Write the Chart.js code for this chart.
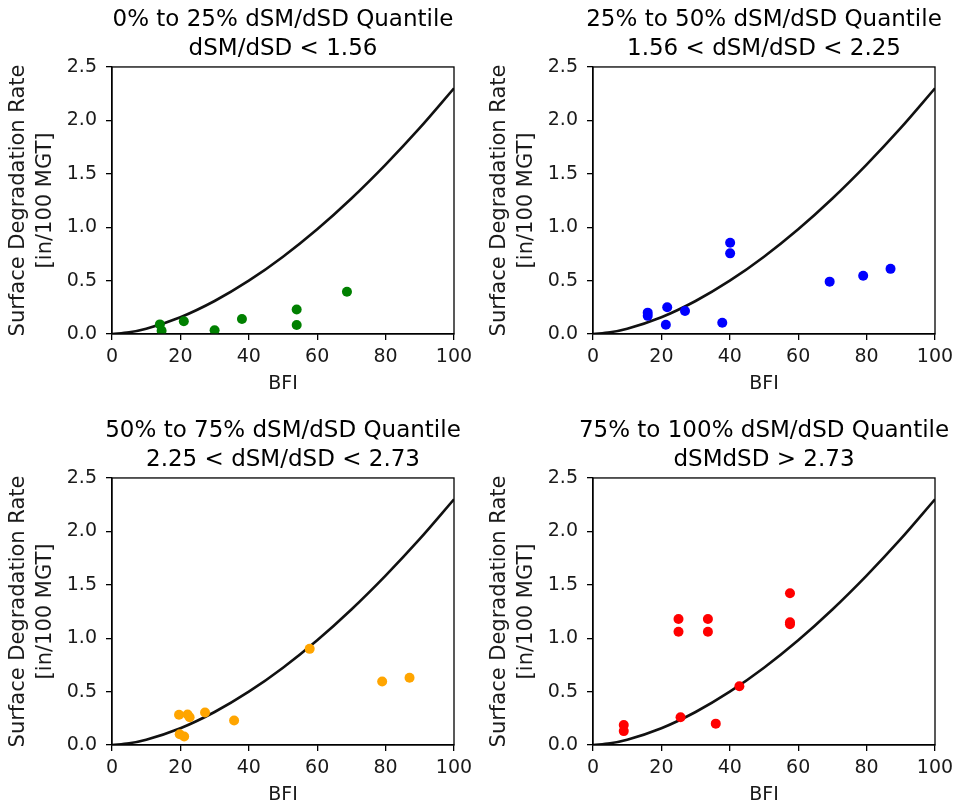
<!DOCTYPE html>
<html>
<head>
<meta charset="utf-8">
<script src="https://cdn.jsdelivr.net/npm/chart.js@4/dist/chart.umd.min.js"></script>
<style>
    html, body { margin: 0; padding: 0; background: #fff; overflow: hidden; }
    body { width: 955px; height: 808px; position: relative; }
    canvas { position: absolute; }
</style>
</head>
<body>
<canvas id="c0" width="566" height="395" style="left:0px;top:0px"></canvas>
<canvas id="c1" width="566" height="395" style="left:481px;top:0px"></canvas>
<canvas id="c2" width="566" height="395" style="left:0px;top:411px"></canvas>
<canvas id="c3" width="566" height="395" style="left:481px;top:411px"></canvas>
<script>
// axis ticks
const xTicks = [0, 20, 40, 60, 80, 100];
const yTicks = [0, 0.5, 1.0, 1.5, 2.0, 2.5];

// fitted curve
const curveX = [0, 5, 10, 20, 30, 40, 50, 60, 70, 80, 90, 100];
const curveY = [0, 0.016, 0.05, 0.157, 0.309, 0.499, 0.724, 0.981, 1.269, 1.586, 1.929, 2.3];

// 0% to 25%
const greenX = [14, 14.5, 21, 30, 38, 54, 54, 68.7];
const greenY = [0.09, 0.03, 0.12, 0.035, 0.14, 0.23, 0.085, 0.395];

// 25% to 50%
const blueX = [16, 16, 21.7, 21.3, 26.9, 37.8, 40.1, 40.1, 69.2, 79, 87];
const blueY = [0.20, 0.17, 0.25, 0.087, 0.215, 0.105, 0.855, 0.755, 0.49, 0.545, 0.61];

// 50% to 75%
const orangeX = [19.6, 22.1, 22.7, 27.2, 19.8, 21.1, 35.7, 57.8, 79, 87];
const orangeY = [0.283, 0.286, 0.26, 0.305, 0.10, 0.08, 0.23, 0.90, 0.594, 0.63];

// 75% to 100%
const redX = [9, 9, 25, 25, 33.6, 33.6, 57.6, 57.6, 57.6, 25.6, 35.9, 42.8];
const redY = [0.187, 0.13, 1.18, 1.06, 1.18, 1.06, 1.42, 1.15, 1.13, 0.26, 0.20, 0.55];

const titles = [
    ['0% to 25% dSM/dSD Quantile', 'dSM/dSD < 1.56'],
    ['25% to 50% dSM/dSD Quantile', '1.56 < dSM/dSD < 2.25'],
    ['50% to 75% dSM/dSD Quantile', '2.25 < dSM/dSD < 2.73'],
    ['75% to 100% dSM/dSD Quantile', 'dSMdSD > 2.73']
];

const panels = [
    { id: 'c0', xs: greenX, ys: greenY, color: '#008000' },
    { id: 'c1', xs: blueX, ys: blueY, color: '#0000ff' },
    { id: 'c2', xs: orangeX, ys: orangeY, color: '#ffa500' },
    { id: 'c3', xs: redX, ys: redY, color: '#ff0000' }
];

Chart.defaults.font.family = '"DejaVu Sans", sans-serif';
Chart.defaults.color = '#1a1a1a';

const toPoints = (xs, ys) => xs.map((x, i) => ({ x: x, y: ys[i] }));

// draws the top and right spines too
const framePlugin = {
    id: 'frame',
    afterDraw(chart) {
        const { ctx, chartArea: a } = chart;
        ctx.save();
        ctx.strokeStyle = '#000';
        ctx.lineWidth = 1.3;
        ctx.strokeRect(a.left, a.top, a.right - a.left, a.bottom - a.top);
        ctx.restore();
    }
};

const tickFont = { size: 19 };

panels.forEach((p, idx) => {
    new Chart(document.getElementById(p.id), {
        type: 'scatter',
        data: {
            datasets: [
                {
                    data: toPoints(p.xs, p.ys),
                    backgroundColor: p.color,
                    borderColor: p.color,
                    pointRadius: 5,
                    borderWidth: 0
                },
                {
                    data: toPoints(curveX, curveY),
                    showLine: true,
                    borderColor: '#111',
                    borderWidth: 2.6,
                    pointRadius: 0,
                    cubicInterpolationMode: 'monotone'
                }
            ]
        },
        options: {
            responsive: false,
            animation: false,
            layout: { padding: 0 },
            plugins: {
                legend: { display: false },
                tooltip: { enabled: false },
                title: {
                    display: true,
                    text: titles[idx],
                    color: '#000',
                    font: { size: 23, weight: 'normal', lineHeight: 1.26 },
                    padding: { top: 6, bottom: 3 }
                }
            },
            scales: {
                x: {
                    type: 'linear',
                    min: 0,
                    max: 100,
                    afterBuildTicks: s => { s.ticks = xTicks.map(v => ({ value: v })); },
                    ticks: { font: tickFont, padding: 6, maxRotation: 0, autoSkip: false, color: '#1a1a1a' },
                    grid: { drawOnChartArea: false, tickLength: 6, color: '#000', lineWidth: 1.3 },
                    border: { color: '#000', width: 1.3 },
                    title: {
                        display: true,
                        text: 'BFI',
                        color: '#1a1a1a',
                        font: { size: 19, lineHeight: 1.2 },
                        padding: { top: 4, bottom: 0 }
                    },
                    afterFit: s => { s.height = 61; }
                },
                y: {
                    type: 'linear',
                    min: 0,
                    max: 2.5,
                    afterBuildTicks: s => { s.ticks = yTicks.map(v => ({ value: v })); },
                    ticks: { font: tickFont, padding: 9, color: '#1a1a1a', callback: v => v.toFixed(1) },
                    grid: { drawOnChartArea: false, tickLength: 6, color: '#000', lineWidth: 1.3 },
                    border: { color: '#000', width: 1.3 },
                    title: {
                        display: true,
                        text: ['Surface Degradation Rate', '[in/100 MGT]'],
                        color: '#1a1a1a',
                        font: { size: 21, lineHeight: 1.24 },
                        padding: { top: 6, bottom: 0 }
                    },
                    afterFit: s => { s.width = 112; }
                },
                yR: {
                    type: 'linear',
                    position: 'right',
                    display: true,
                    grid: { display: false },
                    border: { display: false },
                    ticks: { display: false },
                    afterFit: s => { s.width = 112; }
                }
            }
        },
        plugins: [framePlugin]
    });
});
</script>
</body>
</html>
